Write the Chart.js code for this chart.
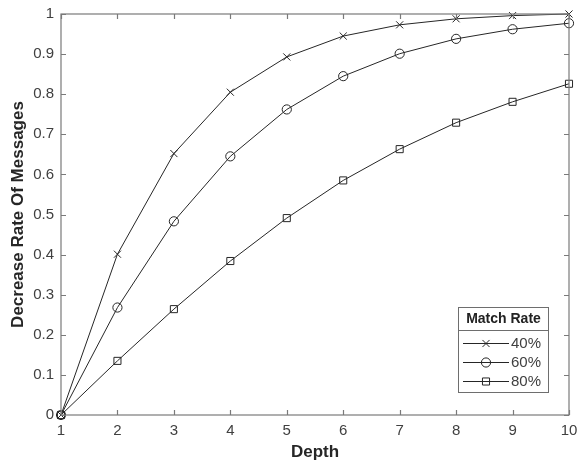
<!DOCTYPE html>
<html>
<head>
<meta charset="utf-8">
<script src="https://cdn.jsdelivr.net/npm/chart.js@4/dist/chart.umd.min.js"></script>
<style>
  html, body { margin: 0; padding: 0; background: #fff; }
  #wrap { width: 578px; height: 466px; }
</style>
</head>
<body>
<div id="wrap"><canvas id="c" width="578" height="466"></canvas></div>
<script>
const depths = [1, 2, 3, 4, 5, 6, 7, 8, 9, 10];
const seriesLabels = ['40%', '60%', '80%'];
const rate40 = [0, 0.401, 0.652, 0.805, 0.893, 0.945, 0.973, 0.988, 0.996, 1.0];
const rate60 = [0, 0.268, 0.483, 0.645, 0.762, 0.845, 0.901, 0.938, 0.962, 0.977];
const rate80 = [0, 0.135, 0.264, 0.384, 0.491, 0.585, 0.663, 0.729, 0.781, 0.826];
const yTickLabels = ['0', '0.1', '0.2', '0.3', '0.4', '0.5', '0.6', '0.7', '0.8', '0.9', '1'];
const xTickLabels = ['1', '2', '3', '4', '5', '6', '7', '8', '9', '10'];
const markerStyles = ['crossRot', 'circle', 'rect'];
const markerRadius = [5, 4.6, 5];
const legendTitle = 'Match Rate';

const LINE = '#262626';
const AXIS = '#7a7a7a';
const TXT = '#404040';
const FONT = "'Liberation Sans', Arial, sans-serif";

function pts(vals) { return depths.map((d, i) => ({ x: d, y: vals[i] })); }

const allSeries = [rate40, rate60, rate80];
const datasets = allSeries.map((vals, i) => ({
  label: seriesLabels[i],
  data: pts(vals),
  borderColor: LINE,
  borderWidth: 1,
  pointStyle: markerStyles[i],
  pointRadius: markerRadius[i],
  pointBorderColor: LINE,
  pointBackgroundColor: 'rgba(0,0,0,0)',
  pointBorderWidth: 1,
  tension: 0,
  clip: false
}));

function drawMarker(ctx, style, r, x, y) {
  if (Chart.helpers && Chart.helpers.drawPoint) {
    Chart.helpers.drawPoint(ctx, { pointStyle: style, radius: r, rotation: 0, borderWidth: 1 }, x, y);
    return;
  }
  ctx.beginPath();
  if (style === 'circle') { ctx.arc(x, y, r, 0, Math.PI * 2); }
  else if (style === 'rect') { const s = Math.SQRT1_2 * r; ctx.rect(x - s, y - s, 2 * s, 2 * s); }
  else { const s = Math.cos(Math.PI / 4) * r; ctx.moveTo(x - s, y - s); ctx.lineTo(x + s, y + s); ctx.moveTo(x + s, y - s); ctx.lineTo(x - s, y + s); }
  ctx.stroke();
}

const frame = {
  id: 'frame',
  afterDraw(chart) {
    const { ctx, chartArea: a, scales: { x, y } } = chart;
    ctx.save();
    ctx.strokeStyle = AXIS;
    ctx.lineWidth = 1.2;
    ctx.strokeRect(a.left, a.top, a.right - a.left, a.bottom - a.top);
    const tl = 5;
    ctx.beginPath();
    x.ticks.forEach(t => {
      const px = Math.round(x.getPixelForValue(t.value)) + 0.5;
      ctx.moveTo(px, a.bottom); ctx.lineTo(px, a.bottom - tl);
      ctx.moveTo(px, a.top); ctx.lineTo(px, a.top + tl);
    });
    y.ticks.forEach(t => {
      const py = Math.round(y.getPixelForValue(t.value)) + 0.5;
      ctx.moveTo(a.left, py); ctx.lineTo(a.left + tl, py);
      ctx.moveTo(a.right, py); ctx.lineTo(a.right - tl, py);
    });
    ctx.stroke();

    // legend box
    const bx = 458, by = 307, bw = 90, bh = 85, titleH = 23;
    ctx.fillStyle = '#fff';
    ctx.fillRect(bx, by, bw, bh);
    ctx.strokeStyle = '#6e6e6e';
    ctx.lineWidth = 1;
    ctx.strokeRect(bx + 0.5, by + 0.5, bw, bh);
    ctx.beginPath();
    ctx.moveTo(bx, by + titleH + 0.5); ctx.lineTo(bx + bw, by + titleH + 0.5);
    ctx.stroke();
    ctx.fillStyle = '#222';
    ctx.font = "bold 14px " + FONT;
    ctx.textAlign = 'center';
    ctx.textBaseline = 'middle';
    ctx.fillText(legendTitle, bx + bw / 2 + 0.5, by + 12.5);
    ctx.font = "15px " + FONT;
    ctx.textAlign = 'left';
    seriesLabels.forEach((lab, i) => {
      const ry = by + 36 + i * 19;
      ctx.strokeStyle = LINE;
      ctx.lineWidth = 1;
      ctx.beginPath();
      ctx.moveTo(bx + 5, ry + 0.5); ctx.lineTo(bx + 51, ry + 0.5);
      ctx.stroke();
      ctx.fillStyle = 'rgba(0,0,0,0)';
      drawMarker(ctx, markerStyles[i], markerRadius[i], bx + 28, ry + 0.5);
      ctx.fillStyle = TXT;
      ctx.fillText(lab, bx + 53, ry + 1);
    });
    ctx.restore();
  }
};

new Chart(document.getElementById('c'), {
  type: 'line',
  data: { datasets },
  options: {
    responsive: false,
    animation: false,
    devicePixelRatio: 1,
    layout: { padding: { top: 14, right: 9, left: 0, bottom: 0 } },
    plugins: { legend: { display: false }, tooltip: { enabled: false } },
    scales: {
      x: {
        type: 'linear', min: 1, max: 10,
        grid: { display: false, drawTicks: false },
        border: { display: false },
        ticks: {
          stepSize: 1, padding: 7, color: TXT,
          font: { family: FONT, size: 15 },
          maxRotation: 0,
          callback: (v) => { const i = depths.indexOf(v); return i >= 0 ? xTickLabels[i] : ''; }
        },
        title: { display: true, text: 'Depth', color: '#262626', font: { family: FONT, size: 17, weight: 'bold' }, padding: { top: 0, bottom: 3 } },
        afterFit(s) { s.height = 51; s.paddingLeft = 0; s.paddingRight = 0; }
      },
      y: {
        type: 'linear', min: 0, max: 1,
        grid: { display: false, drawTicks: false },
        border: { display: false },
        ticks: {
          stepSize: 0.1, padding: 7, color: TXT,
          font: { family: FONT, size: 15 },
          callback: (v) => { const i = Math.round(v * 10); return yTickLabels[i]; }
        },
        title: { display: true, text: 'Decrease Rate Of Messages', color: '#262626', font: { family: FONT, size: 17, weight: 'bold' }, padding: { top: 8, bottom: 0 } },
        afterFit(s) { s.width = 61; s.paddingTop = 0; s.paddingBottom = 0; }
      }
    }
  },
  plugins: [frame]
});
</script>
</body>
</html>
